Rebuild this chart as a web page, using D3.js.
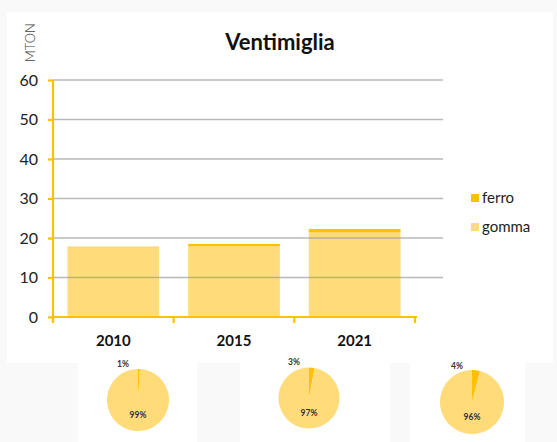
<!DOCTYPE html>
<html>
<head>
<meta charset="utf-8">
<script src="https://cdn.jsdelivr.net/npm/d3@7"></script>
<style>
  html, body { margin: 0; padding: 0; background: #f9f9f9; }
  svg { display: block; }
</style>
</head>
<body>
<svg id="chart" width="557" height="442"></svg>
<script>
// Ventimiglia – tonnellate di rifiuti (ferro / gomma) per anno
const years = ["2010", "2015", "2021"];
const gomma = [17.62, 17.95, 21.4];
const ferro = [0.18, 0.55, 0.9];
const yTicks = [0, 10, 20, 30, 40, 50, 60];
const seriesNames = ["ferro", "gomma"];
const pieLabels = [["1%", "99%"], ["3%", "97%"], ["4%", "96%"]];

const colFerro = "#ffc000";
const colGomma = "#ffdb7a";
const axisCol = "#ffc000";
const font = "Lato, 'Open Sans', sans-serif";

const svg = d3.select("#chart");

// panels
svg.append("rect").attr("x", 7).attr("y", 12).attr("width", 546).attr("height", 351).attr("fill", "#fff");
[[78, 119], [240, 150], [410, 115]].forEach(([x, w]) => {
  svg.append("rect").attr("x", x).attr("y", 363).attr("width", w).attr("height", 79).attr("fill", "#fff");
});

const y = d3.scaleLinear().domain([0, 60]).range([317, 80]);
const x = d3.scaleBand().domain(years).range([53, 415]).paddingInner(0.24).paddingOuter(0.12);

// title
svg.append("text").attr("x", 280).attr("y", 50).attr("text-anchor", "middle")
  .attr("font-family", font).attr("font-weight", 700).attr("font-size", 22).attr("fill", "#111")
  .text("Ventimiglia");

// unit label
svg.append("text").attr("transform", "translate(35,62) rotate(-90)")
  .attr("font-family", font).attr("font-weight", 300).attr("font-size", 13).attr("fill", "#444")
  .text("MTON");

// stacked bars
const rows = years.map((yr, i) => ({ year: yr, gomma: gomma[i], ferro: ferro[i] }));
const stack = d3.stack().keys(["gomma", "ferro"])(rows);
const colors = { gomma: colGomma, ferro: colFerro };
stack.forEach(layer => {
  svg.append("g").selectAll("rect").data(layer).join("rect")
    .attr("x", d => x(d.data.year))
    .attr("width", x.bandwidth())
    .attr("y", d => y(d[1]))
    .attr("height", d => y(d[0]) - y(d[1]))
    .attr("fill", colors[layer.key]);
});

// gridlines
svg.append("g").selectAll("line").data(yTicks.filter(t => t > 0)).join("line")
  .attr("x1", 53).attr("x2", 443)
  .attr("y1", d => y(d)).attr("y2", d => y(d))
  .attr("stroke", "#a0a0a0").attr("stroke-opacity", 0.75).attr("stroke-width", 1.6);

// y axis
const yAxis = svg.append("g").attr("transform", "translate(53,0)")
  .call(d3.axisLeft(y).tickValues(yTicks).tickSize(5).tickPadding(10));
yAxis.select(".domain").attr("stroke", axisCol).attr("stroke-width", 2.2).attr("d", "M0,80V322");
yAxis.selectAll(".tick line").attr("stroke", axisCol).attr("stroke-width", 2.2);
yAxis.selectAll(".tick text").attr("font-family", font).attr("font-size", 16).attr("fill", "#222");

// x axis
const xAxis = svg.append("g").attr("transform", "translate(0,317)")
  .call(d3.axisBottom(x).tickSize(0).tickPadding(18));
xAxis.select(".domain").attr("stroke", axisCol).attr("stroke-width", 2.2).attr("d", "M51,0H417");
xAxis.selectAll(".tick text").attr("font-family", font).attr("font-weight", 700).attr("font-size", 15).attr("fill", "#111");
// category separators
const sep = [0, 1, 2, 3].map(i => x.range()[0] + i * (x.range()[1] - x.range()[0]) / years.length);
svg.append("g").selectAll("line").data(sep).join("line")
  .attr("x1", d => d).attr("x2", d => d).attr("y1", 317).attr("y2", 323)
  .attr("stroke", axisCol).attr("stroke-width", 2.2);

// legend
const legend = svg.append("g").selectAll("g").data(seriesNames).join("g")
  .attr("transform", (d, i) => `translate(471,${194 + i * 29})`);
legend.append("rect").attr("width", 8).attr("height", 8)
  .attr("fill", d => d === "ferro" ? colFerro : colGomma);
legend.append("text").attr("x", 11).attr("y", 9)
  .attr("font-family", font).attr("font-size", 15).attr("fill", "#222").text(d => d);

// pies (share of ferro / gomma per year)
const pieCenters = [[138, 400, 31], [309, 398, 30.5], [472, 402, 32]];
const pie = d3.pie().sort(null).value(d => d);
const arc = d3.arc().innerRadius(0);
years.forEach((yr, i) => {
  const [cx, cy, r] = pieCenters[i];
  const g = svg.append("g").attr("transform", `translate(${cx},${cy})`);
  const arcs = pie([ferro[i], gomma[i]]);
  g.selectAll("path").data(arcs).join("path")
    .attr("d", d => arc.outerRadius(r)(d))
    .attr("fill", (d, j) => j === 0 ? colFerro : colGomma);
  g.append("text").attr("x", -15).attr("y", -33)
    .attr("text-anchor", "middle").attr("font-family", font).attr("font-weight", 700)
    .attr("font-size", 8.5).attr("fill", "#333").text(pieLabels[i][0]);
  g.append("text").attr("x", 0).attr("y", 18)
    .attr("text-anchor", "middle").attr("font-family", font).attr("font-weight", 700)
    .attr("font-size", 8.5).attr("fill", "#333").text(pieLabels[i][1]);
});
</script>
</body>
</html>
